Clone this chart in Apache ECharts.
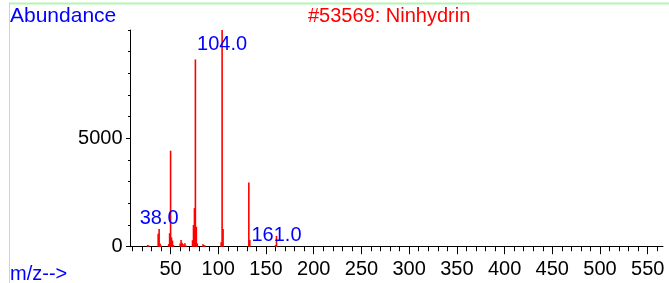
<!DOCTYPE html>
<html>
<head>
<meta charset="utf-8">
<script src="https://cdn.jsdelivr.net/npm/echarts@6/dist/echarts.min.js"></script>
<style>
  html, body { margin: 0; padding: 0; background: #fff; }
  #chart { width: 669px; height: 283px; }
</style>
</head>
<body>
<div id="chart"></div>
<script>
  var title = '#53569: Ninhydrin';
  // m/z and abundance
  var mz =        [26, 27, 37,  38,  39, 40, 48,  49,   50,  51,  52, 53,  60,  61,  62,  63,  65, 66,  73,   74,   75,   76,  77,  78,  84, 85, 86, 103,  104, 105,  132, 133, 160, 161];
  var abundance = [80, 60, 600, 820, 150, 50, 120, 620, 4430, 430, 280, 80, 150, 310, 185, 120, 155, 60, 300, 1000, 1780, 8640, 920, 150, 110, 80, 60, 200, 9999, 820, 2960, 310, 80, 494];
  var labelledPeaks = [38, 104, 161];
  var xTickLabels = [50, 100, 150, 200, 250, 300, 350, 400, 450, 500, 550];
  var xMinorTicks = [10, 20, 30, 40, 50, 60, 70, 80, 90, 100, 110, 120, 130, 140, 150, 160, 170, 180, 190, 200,
    210, 220, 230, 240, 250, 260, 270, 280, 290, 300, 310, 320, 330, 340, 350, 360, 370, 380, 390, 400,
    410, 420, 430, 440, 450, 460, 470, 480, 490, 500, 510, 520, 530, 540, 550, 560];
  var yTickLabels = [0, 5000];

  // where each peak label sits relative to its bar top
  var labelOffset = { 38: [0, 0], 104: [0, 24], 161: [0, 9] };

  var font = 'Liberation Sans, Arial, sans-serif';

  var barData = mz.map(function (m, i) {
    var item = { value: [m, abundance[i]] };
    if (labelledPeaks.indexOf(m) >= 0) {
      item.label = {
        show: true,
        position: 'top',
        distance: 0,
        offset: labelOffset[m],
        formatter: function (p) { return p.value[0].toFixed(1); },
        color: '#0000ff',
        fontSize: 20,
        fontFamily: font
      };
    }
    return item;
  });

  var chart = echarts.init(document.getElementById('chart'));

  var option = {
    backgroundColor: '#fff',
    animation: false,
    grid: { left: 130.5, right: 6, top: 30, bottom: 36.3 },
    xAxis: [{
      type: 'value',
      min: 8,
      max: 566,
      splitLine: { show: false },
      axisLine: { show: true, onZero: false, lineStyle: { color: '#000', width: 1 } },
      axisTick: { show: true, length: 4.5, customValues: xMinorTicks, lineStyle: { color: '#000' } },
      axisLabel: { show: false }
    }, {
      type: 'value',
      min: 8,
      max: 566,
      position: 'bottom',
      splitLine: { show: false },
      axisLine: { show: false, onZero: false },
      axisTick: { show: true, length: 7.5, customValues: xTickLabels, lineStyle: { color: '#000' } },
      axisLabel: {
        customValues: xTickLabels,
        margin: 13,
        color: '#000',
        fontSize: 20,
        fontFamily: font
      }
    }],
    yAxis: [{
      type: 'value',
      min: 0,
      max: 9999,
      interval: 1000,
      splitLine: { show: false },
      axisLine: { show: true, lineStyle: { color: '#000', width: 1 } },
      axisTick: { show: true, length: 2.5, lineStyle: { color: '#000' } },
      axisLabel: { show: false }
    }, {
      type: 'value',
      min: 0,
      max: 9999,
      position: 'left',
      splitLine: { show: false },
      axisLine: { show: false },
      axisTick: { show: true, length: 4.5, customValues: yTickLabels, lineStyle: { color: '#000' } },
      axisLabel: {
        customValues: yTickLabels,
        formatter: function (v) { return String(v); },
        margin: 8,
        color: '#000',
        fontSize: 20,
        fontFamily: font
      }
    }],
    series: [{
      type: 'bar',
      xAxisIndex: 0,
      yAxisIndex: 0,
      barWidth: 1.6,
      itemStyle: { color: '#ff0000' },
      data: barData,
      z: 3
    }],
    graphic: [
      // pale green frame, top and left edges
      { type: 'line', shape: { x1: 9, y1: 3.5, x2: 669, y2: 3.5 }, style: { stroke: '#b4f5b4', lineWidth: 2 }, silent: true },
      { type: 'line', shape: { x1: 9.5, y1: 2.5, x2: 9.5, y2: 283 }, style: { stroke: '#a8f0a8', lineWidth: 1 }, silent: true },
      { type: 'text', left: 10, top: 6, style: { text: 'Abundance', fill: '#0000ff', font: '21px ' + font } },
      { type: 'text', left: 308, top: 6, style: { text: title, fill: '#ff0000', font: '20px ' + font } },
      { type: 'text', left: 10, top: 264, style: { text: 'm/z-->', fill: '#0000ff', font: '20px ' + font } }
    ]
  };

  chart.setOption(option);
</script>
</body>
</html>
